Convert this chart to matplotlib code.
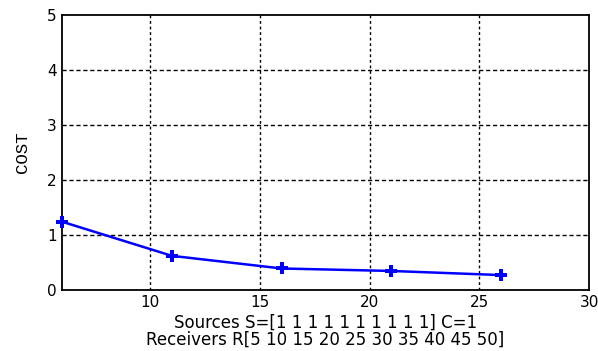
import matplotlib
matplotlib.use("Agg")
import matplotlib.pyplot as plt

# data
receivers = [6, 11, 16, 21, 26]
cost = [1.24, 0.62, 0.39, 0.345, 0.27]
xticks = [10, 15, 20, 25, 30]
yticks = [0, 1, 2, 3, 4, 5]

fig = plt.figure(figsize=(5.98, 3.51), dpi=100)
ax = fig.add_axes([0.104, 0.174, 0.881, 0.783])

ax.plot(receivers, cost, color="blue", lw=1.8, marker="P", ms=9, mew=0,
        clip_on=False, zorder=5)

ax.set_xlim(6, 30)
ax.set_ylim(0, 5)
ax.set_xticks(xticks)
ax.set_yticks(yticks)
ax.tick_params(direction="in", length=0, labelsize=11, pad=4)
for lab in ax.get_xticklabels() + ax.get_yticklabels():
    lab.set_family("DejaVu Sans")

for x in xticks[:-1]:
    ax.axvline(x, color="black", lw=1, ls=(0, (2, 2)))
for y in yticks[1:-1]:
    ax.axhline(y, color="black", lw=1, ls=(0, (3, 2)))

for s in ax.spines.values():
    s.set_linewidth(1.3)

ax.set_xlabel("Sources S=[1 1 1 1 1 1 1 1 1 1] C=1\nReceivers R[5 10 15 20 25 30 35 40 45 50]",
              fontsize=12, family="DejaVu Sans", linespacing=0.95, labelpad=2)
ax.set_ylabel("COST", fontsize=12.5, family="Liberation Mono", labelpad=12)

fig.savefig("out.png", dpi=100)
